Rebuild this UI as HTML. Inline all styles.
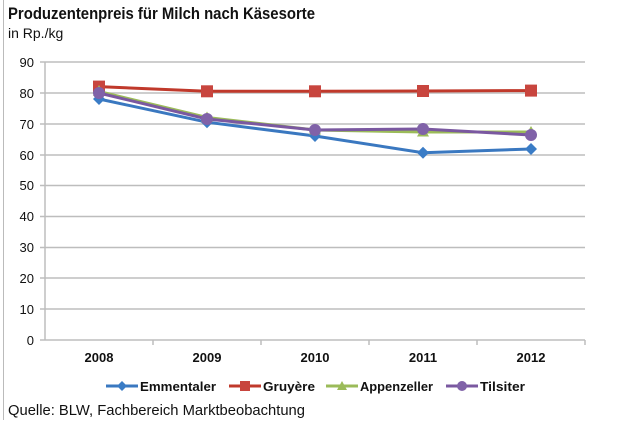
<!DOCTYPE html>
<html><head><meta charset="utf-8"><style>
body{margin:0;background:#fff;width:620px;height:420px;overflow:hidden;font-family:"Liberation Sans",sans-serif}
</style></head><body>
<svg width="620" height="420" xmlns="http://www.w3.org/2000/svg" font-family="Liberation Sans, sans-serif">
<line x1="3.5" y1="0" x2="3.5" y2="420" stroke="#bbb" stroke-width="1"/>
<text x="8" y="19" font-size="17" font-weight="bold" fill="#111" textLength="307" lengthAdjust="spacingAndGlyphs">Produzentenpreis für Milch nach Käsesorte</text>
<text x="8" y="38" font-size="14" fill="#111">in Rp./kg</text>
<g stroke="#bdbdbd" stroke-width="1.5">
<line x1="40" y1="62" x2="585" y2="62"/><line x1="40" y1="93" x2="585" y2="93"/>
<line x1="40" y1="124" x2="585" y2="124"/><line x1="40" y1="155" x2="585" y2="155"/>
<line x1="40" y1="185.5" x2="585" y2="185.5"/><line x1="40" y1="216.5" x2="585" y2="216.5"/>
<line x1="40" y1="247.5" x2="585" y2="247.5"/><line x1="40" y1="278" x2="585" y2="278"/>
<line x1="40" y1="309" x2="585" y2="309"/>
<line x1="45" y1="62" x2="45" y2="340"/>
<line x1="40" y1="340" x2="585" y2="340"/>
<line x1="153" y1="340" x2="153" y2="345"/><line x1="261" y1="340" x2="261" y2="345"/>
<line x1="369" y1="340" x2="369" y2="345"/><line x1="477" y1="340" x2="477" y2="345"/><line x1="585" y1="340" x2="585" y2="345"/>
</g>
<g font-size="13" fill="#111" text-anchor="end">
<text x="34" y="67">90</text><text x="34" y="98">80</text><text x="34" y="129">70</text><text x="34" y="160">60</text>
<text x="34" y="190">50</text><text x="34" y="221">40</text><text x="34" y="252">30</text><text x="34" y="283">20</text>
<text x="34" y="314">10</text><text x="34" y="345">0</text>
</g>
<g font-size="13" font-weight="bold" fill="#111" text-anchor="middle">
<text x="99" y="362">2008</text><text x="207" y="362">2009</text><text x="315" y="362">2010</text><text x="423" y="362">2011</text><text x="531" y="362">2012</text>
</g>
<polyline fill="none" stroke="#c0392b" stroke-width="3" points="99,86.6 207,91.3 315,91.3 423,91 531,90.6"/>
<g fill="#c8453e"><rect x="93" y="80.6" width="12" height="12"/><rect x="201" y="85.3" width="12" height="12"/><rect x="309" y="85.3" width="12" height="12"/><rect x="417" y="85" width="12" height="12"/><rect x="525" y="84.6" width="12" height="12"/></g>
<polyline fill="none" stroke="#3a78c0" stroke-width="3" points="99,99 207,122.2 315,136 423,152.7 531,149"/>
<g fill="#3a7cc6">
<polygon points="99,93 105,99 99,105 93,99"/><polygon points="207,116.2 213,122.2 207,128.2 201,122.2"/><polygon points="315,130 321,136 315,142 309,136"/><polygon points="423,146.7 429,152.7 423,158.7 417,152.7"/><polygon points="531,143 537,149 531,155 525,149"/></g>
<polyline fill="none" stroke="#9bbb59" stroke-width="3" points="99,91.5 207,117.5 315,130 423,132 531,132"/>
<g fill="#9bbb59"><polygon points="99,85 105,96 93,96"/><polygon points="207,111.5 213,122 201,122"/><polygon points="315,124 321,134.5 309,134.5"/><polygon points="423,126 429,136.5 417,136.5"/><polygon points="531,126 537,136.5 525,136.5"/></g>
<polyline fill="none" stroke="#7a58a0" stroke-width="3" points="99,93 207,119 315,130 423,129 531,135"/>
<g fill="#8062a8"><circle cx="99" cy="93" r="6"/><circle cx="207" cy="119" r="6"/><circle cx="315" cy="130" r="6"/><circle cx="423" cy="129" r="6"/><circle cx="531" cy="135" r="6"/></g>
<g font-size="13" font-weight="bold" fill="#111">
<line x1="106" y1="386" x2="138" y2="386" stroke="#3a78c0" stroke-width="3"/><polygon points="122,381 127,386 122,391 117,386" fill="#3a7cc6"/>
<text x="140" y="391" textLength="76" lengthAdjust="spacingAndGlyphs">Emmentaler</text>
<line x1="229" y1="386" x2="261" y2="386" stroke="#c0392b" stroke-width="3"/><rect x="240" y="381" width="10" height="10" fill="#c8453e"/>
<text x="263" y="391" textLength="52" lengthAdjust="spacingAndGlyphs">Gruyère</text>
<line x1="326" y1="386" x2="358" y2="386" stroke="#9bbb59" stroke-width="3"/><polygon points="342,381 347,390 337,390" fill="#9bbb59"/>
<text x="360" y="391" textLength="73" lengthAdjust="spacingAndGlyphs">Appenzeller</text>
<line x1="446" y1="386" x2="478" y2="386" stroke="#7a58a0" stroke-width="3"/><circle cx="462" cy="386" r="5" fill="#8062a8"/>
<text x="480" y="391" textLength="45" lengthAdjust="spacingAndGlyphs">Tilsiter</text>
</g>
<text x="8" y="415" font-size="15" fill="#111" textLength="297" lengthAdjust="spacingAndGlyphs">Quelle: BLW, Fachbereich Marktbeobachtung</text>
</svg>
</body></html>
